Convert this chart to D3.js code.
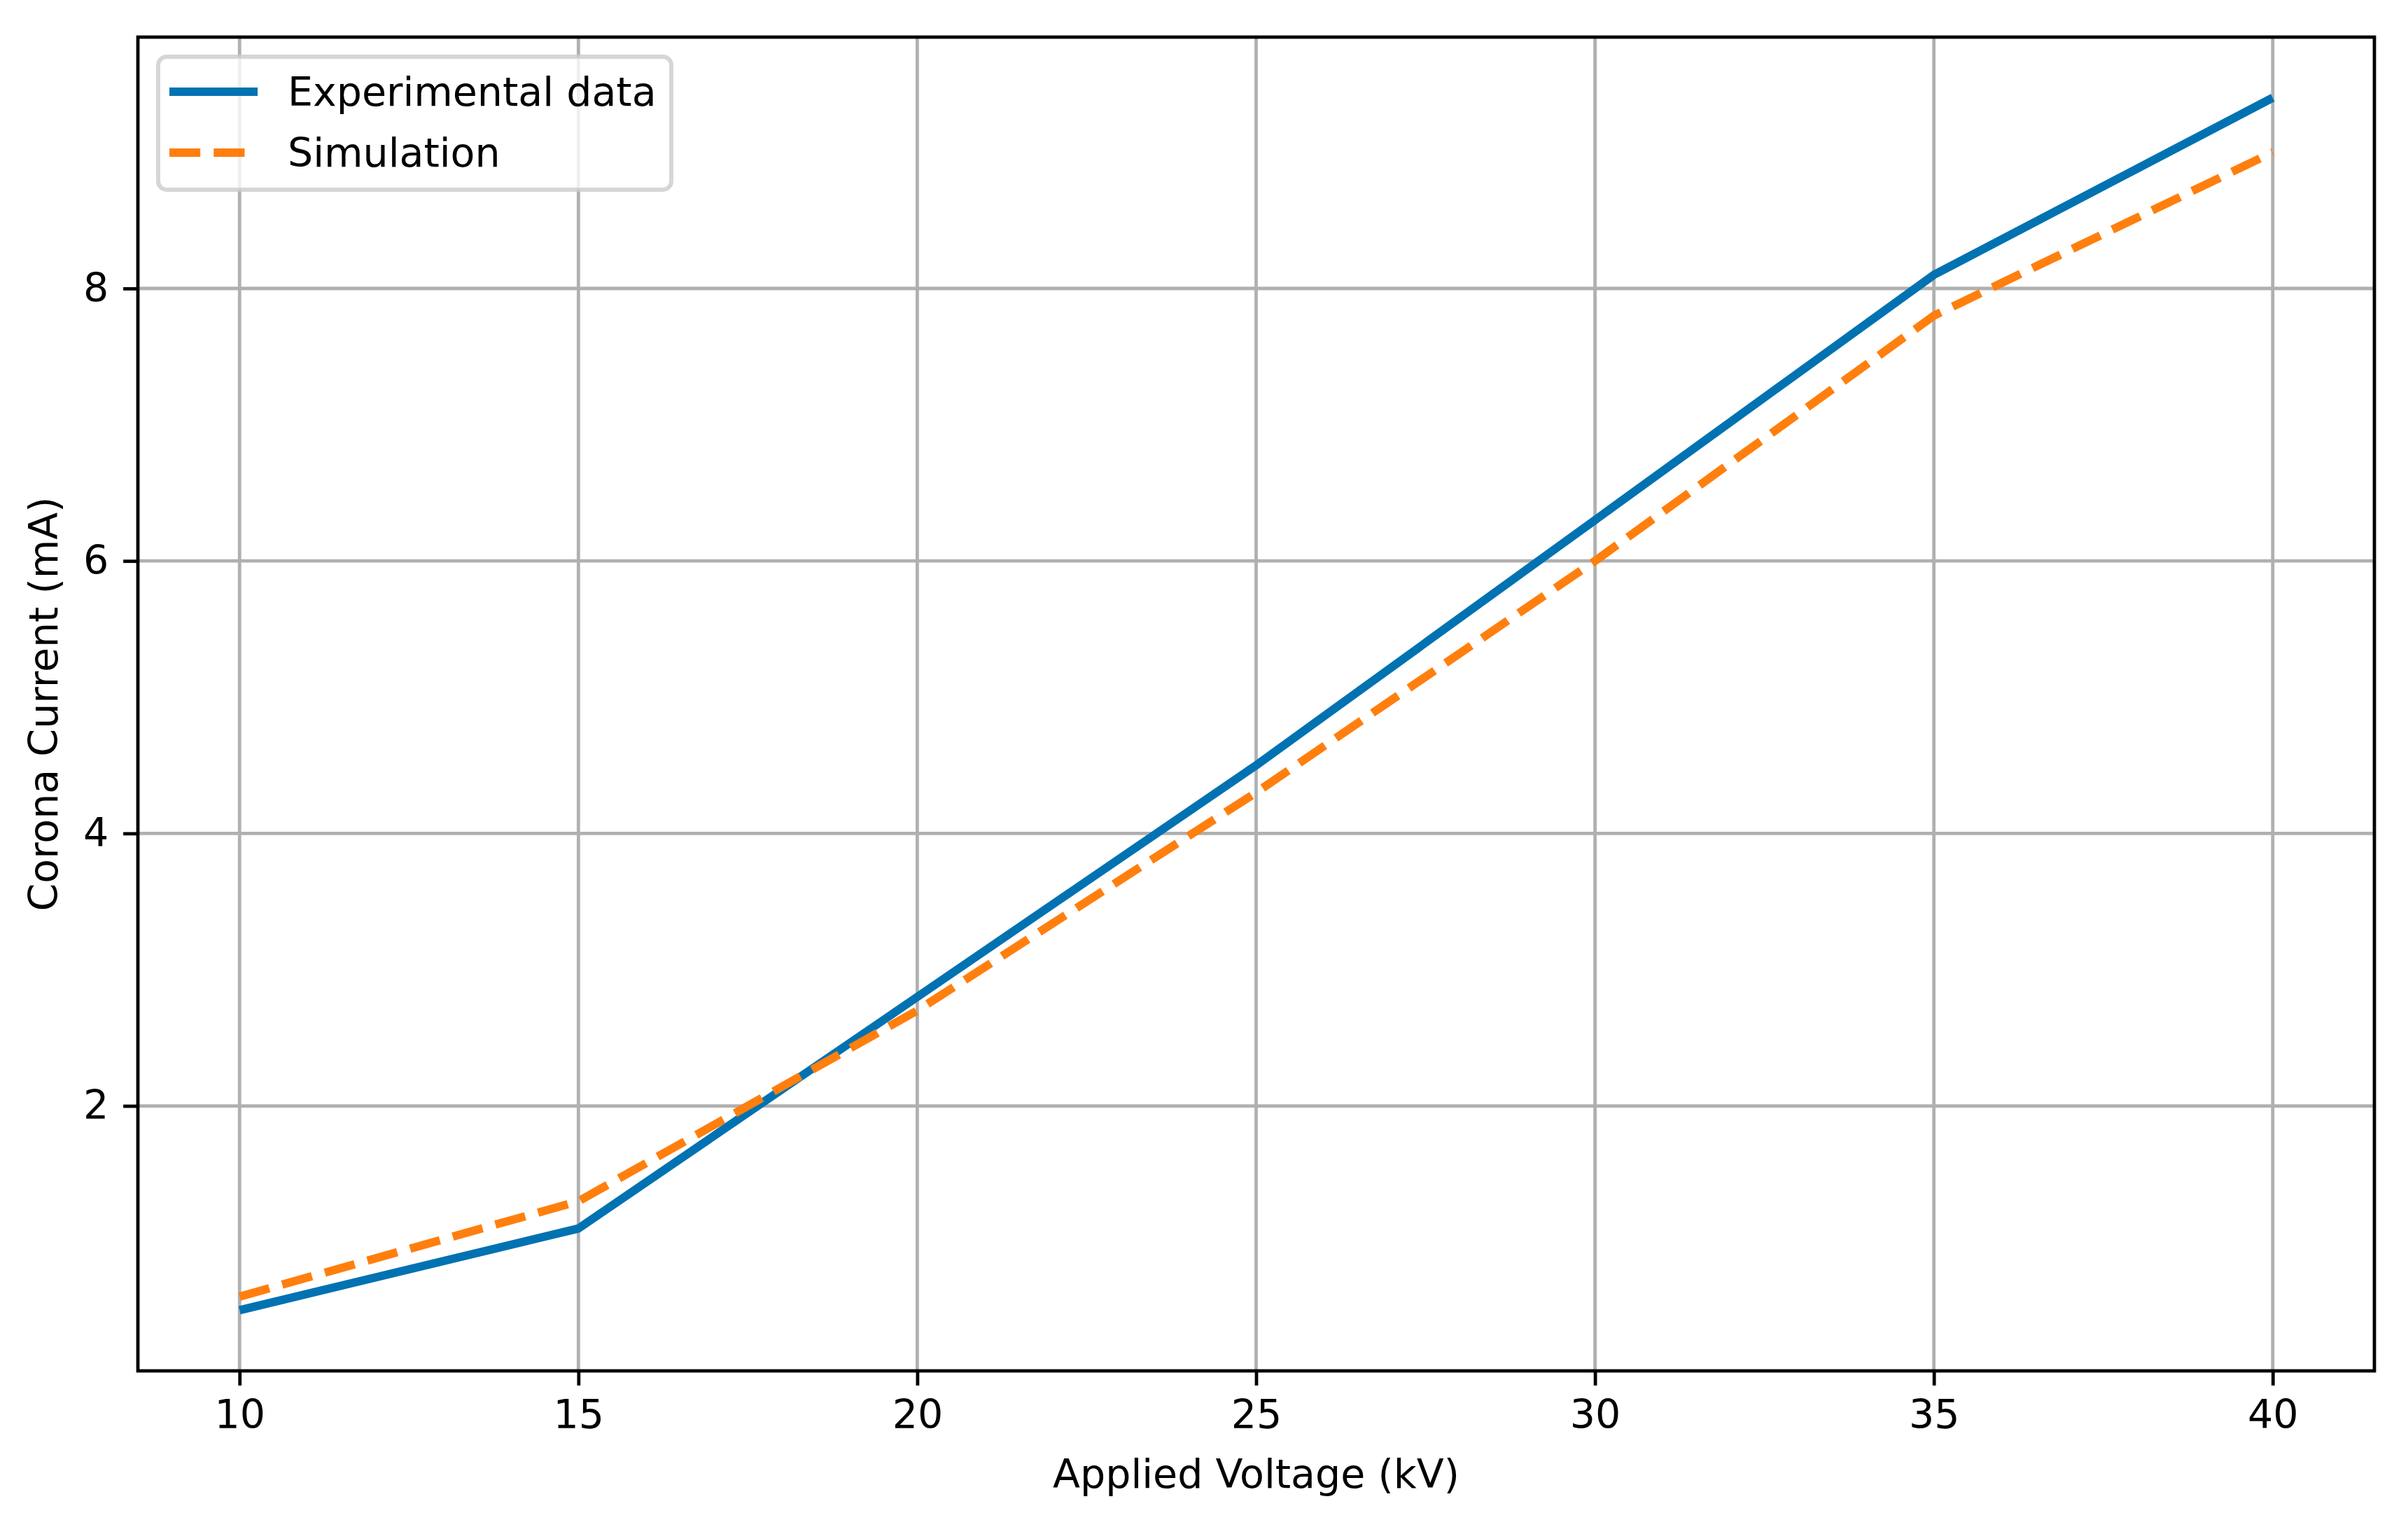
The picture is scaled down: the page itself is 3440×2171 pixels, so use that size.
<!DOCTYPE html>
<html>
<head>
<meta charset="utf-8">
<script src="https://cdn.jsdelivr.net/npm/d3@7"></script>
<style>
  html, body { margin: 0; padding: 0; background: #ffffff; }
  svg { display: block; }
  text { font-family: "DejaVu Sans", sans-serif; fill: #000; }
</style>
</head>
<body>
<script>
// ---- data ----
const voltage = [10, 15, 20, 25, 30, 35, 40];
const experimental = [0.5, 1.1, 2.8, 4.5, 6.3, 8.1, 9.4];
const simulation = [0.6, 1.3, 2.7, 4.3, 6.0, 7.8, 9.0];
const xTicks = [10, 15, 20, 25, 30, 35, 40];
const yTicks = [2, 4, 6, 8];
const seriesNames = ["Experimental data", "Simulation"];
const xLabel = "Applied Voltage (kV)";
const yLabel = "Corona Current (mA)";

(function () {
  // ---- layout ----
  const W = 3440, H = 2171;
  const pt = 5.97; // px per point
  const pL = 197, pR = 3392, pT = 53, pB = 1958;
  const fontSize = 57;
  const blue = "#0072b2", orange = "#ff7f0e";

  const svg = d3.select("body").append("svg").attr("width", W).attr("height", H);
  svg.append("rect").attr("width", W).attr("height", H).attr("fill", "#fff");

  // matplotlib-like 5% margins
  const xmin = d3.min(voltage), xmax = d3.max(voltage);
  const xr = xmax - xmin;
  const allY = experimental.concat(simulation);
  const ymin = d3.min(allY), ymax = d3.max(allY);
  const yr = ymax - ymin;

  const x = d3.scaleLinear().domain([xmin - 0.05 * xr, xmax + 0.05 * xr]).range([pL, pR]);
  const y = d3.scaleLinear().domain([ymin - 0.05 * yr, ymax + 0.05 * yr]).range([pB, pT]);

  // grid
  const grid = svg.append("g");
  grid.selectAll("line.gx").data(xTicks).enter().append("line")
    .attr("x1", d => x(d)).attr("x2", d => x(d)).attr("y1", pT).attr("y2", pB)
    .attr("stroke", "#b0b0b0").attr("stroke-width", 0.8 * pt);
  grid.selectAll("line.gy").data(yTicks).enter().append("line")
    .attr("y1", d => y(d)).attr("y2", d => y(d)).attr("x1", pL).attr("x2", pR)
    .attr("stroke", "#b0b0b0").attr("stroke-width", 0.8 * pt);

  // lines
  const line = (vals) => d3.line().x((d, i) => x(voltage[i])).y(d => y(d))(vals);
  svg.append("path").attr("d", line(experimental)).attr("fill", "none")
    .attr("stroke", blue).attr("stroke-width", 2 * pt).attr("stroke-linejoin", "round").attr("stroke-linecap", "butt");
  svg.append("path").attr("d", line(simulation)).attr("fill", "none")
    .attr("stroke", orange).attr("stroke-width", 2 * pt)
    .attr("stroke-dasharray", `${7.4 * pt},${3.2 * pt}`).attr("stroke-linecap", "butt");

  // axes
  const xAxis = d3.axisBottom(x).tickValues(xTicks).tickSize(3.5 * pt).tickPadding(3.5 * pt).tickFormat(d3.format("d"));
  const yAxis = d3.axisLeft(y).tickValues(yTicks).tickSize(3.5 * pt).tickPadding(3.5 * pt).tickFormat(d3.format("d"));
  const gx = svg.append("g").attr("transform", `translate(0,${pB})`).call(xAxis);
  const gy = svg.append("g").attr("transform", `translate(${pL},0)`).call(yAxis);
  [gx, gy].forEach(g => {
    g.select(".domain").remove();
    g.selectAll(".tick line").attr("stroke", "#000").attr("stroke-width", 0.8 * pt);
    g.selectAll(".tick text").attr("font-size", fontSize).attr("font-family", "DejaVu Sans").attr("fill", "#000");
  });

  // frame
  svg.append("rect").attr("x", pL).attr("y", pT).attr("width", pR - pL).attr("height", pB - pT)
    .attr("fill", "none").attr("stroke", "#000").attr("stroke-width", 0.8 * pt);

  // axis labels
  svg.append("text").attr("x", (pL + pR) / 2).attr("y", 2125).attr("text-anchor", "middle")
    .attr("font-size", fontSize).text(xLabel);
  svg.append("text").attr("transform", `translate(82,${(pT + pB) / 2}) rotate(-90)`)
    .attr("text-anchor", "middle").attr("font-size", fontSize).text(yLabel);

  // legend
  const lg = svg.append("g");
  lg.append("rect").attr("x", 226).attr("y", 81).attr("width", 733).attr("height", 190).attr("rx", 12).attr("ry", 12)
    .attr("fill", "#fff").attr("fill-opacity", 0.8).attr("stroke", "#cccccc").attr("stroke-opacity", 0.8).attr("stroke-width", pt);
  const colors = [blue, orange];
  const dashes = [null, `${7.4 * pt},${3.2 * pt}`];
  const rowY = [131, 218];
  seriesNames.forEach((name, i) => {
    lg.append("line").attr("x1", 242).attr("x2", 368).attr("y1", rowY[i]).attr("y2", rowY[i])
      .attr("stroke", colors[i]).attr("stroke-width", 2 * pt).attr("stroke-dasharray", dashes[i]);
    lg.append("text").attr("x", 411).attr("y", rowY[i] + 20).attr("font-size", fontSize).text(name);
  });
})();
</script>
</body>
</html>
